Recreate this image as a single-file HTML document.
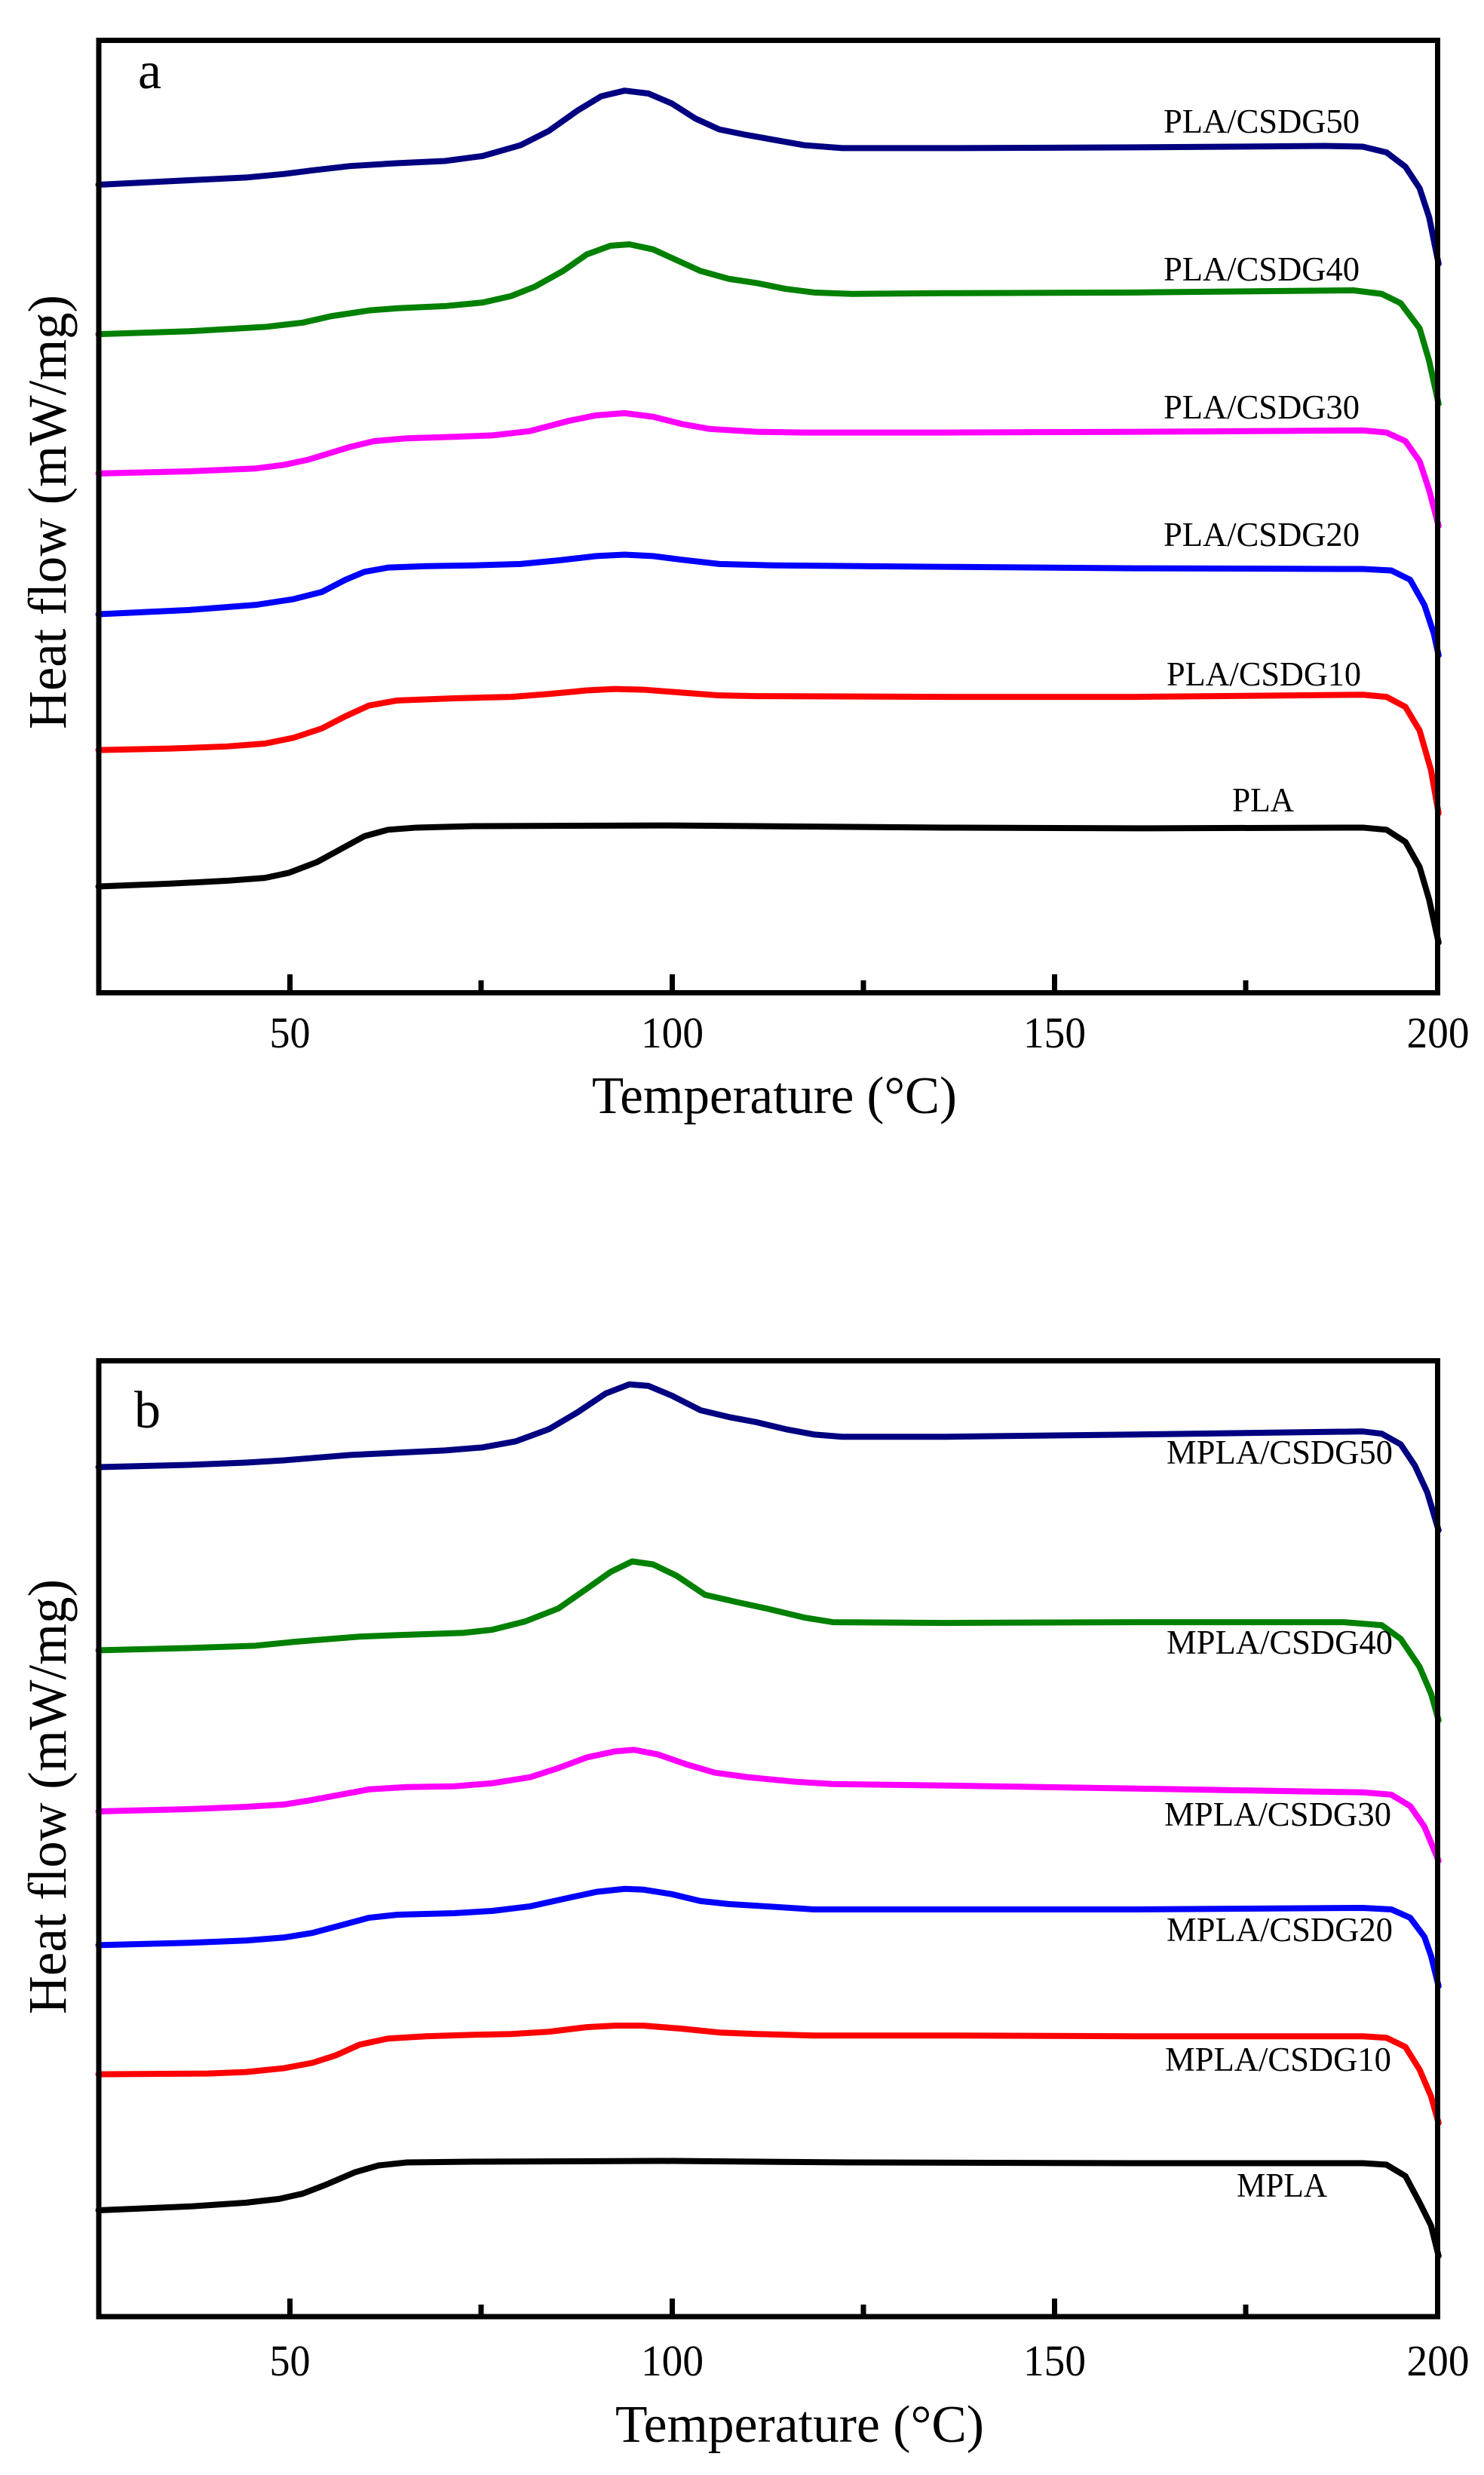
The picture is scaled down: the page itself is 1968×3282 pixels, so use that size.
<!DOCTYPE html>
<html><head><meta charset="utf-8"><style>
html,body{margin:0;padding:0;background:#fff;}
svg{display:block;}
text{font-family:"Liberation Serif",serif;fill:#000;}
</style></head><body>
<svg width="1968" height="3282" viewBox="0 0 1968 3282" xmlns="http://www.w3.org/2000/svg">
<rect width="1968" height="3282" fill="#fff"/>

<!-- Panel a curves (zoom coords) -->
<g transform="matrix(1.2551 0 0 0.9525 0 2.07)" fill="none" stroke-width="8" stroke-linejoin="round" stroke-linecap="round">
<polyline vector-effect="non-scaling-stroke" stroke="#000080" points="104,255 180,250 260,245 300,240 330,235 370,229 420,225 470,222 510,215 550,200 580,180 610,152 635,132 660,124 685,128 710,142 735,163 760,178 790,186 820,193 850,200 890,204 1000,204 1200,203 1400,201 1440,202 1465,210 1485,230 1500,260 1510,300 1520,365"/>
<polyline vector-effect="non-scaling-stroke" stroke="#008000" points="104,463 200,459 280,453 320,447 350,438 390,430 420,427 470,424 510,419 540,410 565,397 595,375 620,352 645,340 665,338 690,345 715,360 740,375 770,386 800,392 830,400 860,405 900,407 1000,406 1200,405 1430,402 1460,407 1480,420 1500,455 1510,500 1520,560"/>
<polyline vector-effect="non-scaling-stroke" stroke="#ff00ff" points="104,657 200,654 270,650 300,645 325,638 345,630 370,620 395,612 430,608 480,606 520,604 560,598 600,584 630,576 660,573 690,578 720,588 750,595 800,599 850,600 1000,600 1200,599 1440,597 1465,600 1485,612 1500,640 1510,680 1520,730"/>
<polyline vector-effect="non-scaling-stroke" stroke="#0000ff" points="104,853 200,847 270,840 310,832 340,822 365,805 385,794 410,788 450,786 500,785 550,783 590,778 630,772 660,770 690,772 720,777 760,783 820,785 1000,787 1200,789 1440,790 1470,792 1490,805 1505,840 1515,880 1520,910"/>
<polyline vector-effect="non-scaling-stroke" stroke="#ff0000" points="104,1042 180,1040 240,1037 280,1033 310,1025 340,1012 365,995 390,980 420,973 480,970 540,968 580,964 620,959 650,957 680,958 720,962 760,966 800,967 1000,968 1200,968 1440,965 1465,968 1485,982 1500,1015 1512,1070 1520,1130"/>
<polyline vector-effect="non-scaling-stroke" stroke="#000000" points="104,1232 180,1228 240,1224 280,1220 305,1213 335,1198 360,1180 385,1162 410,1153 440,1150 500,1148 700,1147 800,1148 1000,1150 1200,1151 1440,1150 1465,1153 1485,1170 1500,1205 1510,1250 1520,1310"/>
</g>

<!-- Panel b curves -->
<g transform="matrix(1.2551 0 0 1.0076 0 1701.7)" fill="none" stroke-width="8" stroke-linejoin="round" stroke-linecap="round">
<polyline vector-effect="non-scaling-stroke" stroke="#000080" points="104,242 200,239 260,236 300,233 330,230 370,226 420,223 470,220 510,216 545,208 580,192 610,170 640,145 665,133 685,135 710,148 740,167 770,176 800,183 830,192 860,199 890,202 1000,202 1200,199 1440,195 1460,198 1480,212 1495,240 1508,275 1520,325"/>
<polyline vector-effect="non-scaling-stroke" stroke="#008000" points="104,483 200,480 270,477 310,472 340,469 380,465 420,463 490,460 520,456 555,445 590,428 620,402 645,380 668,366 690,370 715,385 745,410 780,420 810,428 850,440 880,446 1000,447 1200,446 1420,446 1460,450 1480,468 1500,505 1512,540 1520,575"/>
<polyline vector-effect="non-scaling-stroke" stroke="#ff00ff" points="104,695 200,692 260,689 300,686 330,680 360,673 390,666 430,663 480,662 520,658 560,650 590,638 620,624 650,616 670,614 695,620 725,633 755,644 790,650 840,656 880,659 1000,661 1200,665 1440,670 1470,673 1490,688 1505,715 1520,760"/>
<polyline vector-effect="non-scaling-stroke" stroke="#0000ff" points="104,871 200,868 260,865 300,861 330,855 360,845 390,835 420,831 480,829 520,826 560,820 600,809 630,801 660,797 680,798 710,804 740,813 770,817 810,820 860,824 1000,824 1200,824 1440,822 1470,824 1490,835 1505,860 1512,885 1520,925"/>
<polyline vector-effect="non-scaling-stroke" stroke="#ff0000" points="104,1041 220,1040 260,1038 300,1033 330,1026 355,1016 380,1002 410,994 450,991 500,989 540,988 580,985 620,979 650,977 680,977 720,981 760,986 800,988 860,990 1000,990 1200,991 1440,991 1465,993 1485,1005 1500,1035 1512,1070 1520,1105"/>
<polyline vector-effect="non-scaling-stroke" stroke="#000000" points="104,1220 200,1215 260,1210 295,1205 320,1198 345,1186 375,1170 400,1161 430,1157 500,1156 700,1155 900,1157 1200,1158 1440,1158 1465,1160 1485,1175 1500,1210 1512,1240 1520,1280"/>
</g>

<!-- Frames -->
<rect x="131" y="53.5" width="1775.5" height="1263" fill="none" stroke="#000" stroke-width="7"/>
<rect x="131" y="1804.5" width="1775.5" height="1267.5" fill="none" stroke="#000" stroke-width="7"/>

<!-- Ticks a -->
<g stroke="#000" stroke-width="7">
<line x1="384.5" y1="1316" x2="384.5" y2="1292"/>
<line x1="891.5" y1="1316" x2="891.5" y2="1292"/>
<line x1="1398.5" y1="1316" x2="1398.5" y2="1292"/>
<line x1="638" y1="1316" x2="638" y2="1300"/>
<line x1="1145" y1="1316" x2="1145" y2="1300"/>
<line x1="1652" y1="1316" x2="1652" y2="1300"/>
<line x1="384.5" y1="3072" x2="384.5" y2="3048"/>
<line x1="891.5" y1="3072" x2="891.5" y2="3048"/>
<line x1="1398.5" y1="3072" x2="1398.5" y2="3048"/>
<line x1="638" y1="3072" x2="638" y2="3056"/>
<line x1="1145" y1="3072" x2="1145" y2="3056"/>
<line x1="1652" y1="3072" x2="1652" y2="3056"/>
</g>

<!-- Tick labels -->
<g font-size="58" text-anchor="middle">
<text x="384.5" y="1389" textLength="54" lengthAdjust="spacingAndGlyphs">50</text>
<text x="891.5" y="1389" textLength="83" lengthAdjust="spacingAndGlyphs">100</text>
<text x="1398.5" y="1389" textLength="83" lengthAdjust="spacingAndGlyphs">150</text>
<text x="1907" y="1389" textLength="83" lengthAdjust="spacingAndGlyphs">200</text>
<text x="384.5" y="3150" textLength="54" lengthAdjust="spacingAndGlyphs">50</text>
<text x="891.5" y="3150" textLength="83" lengthAdjust="spacingAndGlyphs">100</text>
<text x="1398.5" y="3150" textLength="83" lengthAdjust="spacingAndGlyphs">150</text>
<text x="1907" y="3150" textLength="83" lengthAdjust="spacingAndGlyphs">200</text>
</g>

<!-- Axis titles -->
<text x="785" y="1476" font-size="70" textLength="484" lengthAdjust="spacingAndGlyphs">Temperature (°C)</text>
<text x="816" y="3238" font-size="70" textLength="489" lengthAdjust="spacingAndGlyphs">Temperature (°C)</text>
<text transform="translate(87,967) rotate(-90)" font-size="72" textLength="576" lengthAdjust="spacingAndGlyphs">Heat flow (mW/mg)</text>
<text transform="translate(87,2671) rotate(-90)" font-size="72" textLength="577" lengthAdjust="spacingAndGlyphs">Heat flow (mW/mg)</text>

<!-- Panel letters -->
<text x="183" y="117" font-size="70">a</text>
<text x="178" y="1893" font-size="70">b</text>

<!-- Series labels a -->
<g font-size="45">
<text x="1543" y="176" textLength="260" lengthAdjust="spacingAndGlyphs">PLA/CSDG50</text>
<text x="1543" y="372" textLength="260" lengthAdjust="spacingAndGlyphs">PLA/CSDG40</text>
<text x="1543" y="555" textLength="260" lengthAdjust="spacingAndGlyphs">PLA/CSDG30</text>
<text x="1543" y="724" textLength="260" lengthAdjust="spacingAndGlyphs">PLA/CSDG20</text>
<text x="1547" y="909" textLength="258" lengthAdjust="spacingAndGlyphs">PLA/CSDG10</text>
<text x="1634" y="1076" textLength="82" lengthAdjust="spacingAndGlyphs">PLA</text>
<!-- b -->
<text x="1547" y="1941" textLength="300" lengthAdjust="spacingAndGlyphs">MPLA/CSDG50</text>
<text x="1547" y="2193" textLength="300" lengthAdjust="spacingAndGlyphs">MPLA/CSDG40</text>
<text x="1544" y="2421" textLength="301" lengthAdjust="spacingAndGlyphs">MPLA/CSDG30</text>
<text x="1547" y="2574" textLength="300" lengthAdjust="spacingAndGlyphs">MPLA/CSDG20</text>
<text x="1545" y="2746" textLength="300" lengthAdjust="spacingAndGlyphs">MPLA/CSDG10</text>
<text x="1640" y="2913" textLength="120" lengthAdjust="spacingAndGlyphs">MPLA</text>
</g>
</svg>
</body></html>
